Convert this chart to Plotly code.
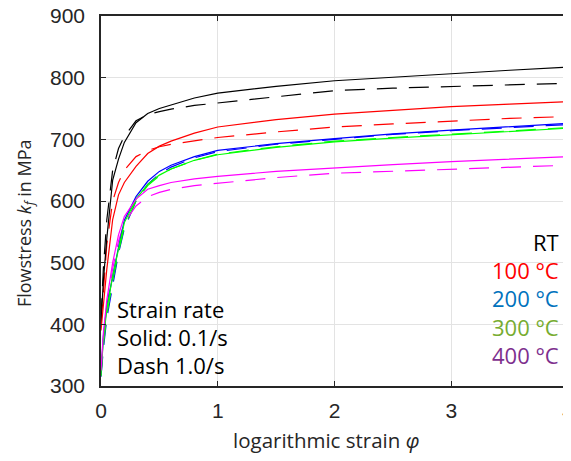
import plotly.graph_objects as go

strain = [0, 0.02, 0.05, 0.1, 0.15, 0.2, 0.3, 0.4, 0.5, 0.6, 0.8, 1.0, 1.5, 2.0, 2.5, 3.0, 3.5, 4.0]

rt_solid   = [400, 470, 540, 634, 668, 695, 727, 742, 750, 756, 767, 775, 786, 795, 801, 807, 812, 817]
rt_dash    = [410, 490, 570, 650, 685, 705, 730, 740, 745, 749, 755, 759, 770, 779, 783, 786, 789, 791]
t100_solid = [390, 430, 490, 570, 610, 630, 656, 677, 689, 697, 710, 720, 732, 741, 747, 753, 757, 761]
t100_dash  = [400, 450, 530, 600, 630, 650, 672, 682, 688, 692, 698, 703, 712, 720, 725, 730, 734, 737]
t200_solid = [320, 380, 430, 480, 525, 569, 607, 632, 648, 658, 672, 682, 693, 701, 709, 715, 721, 726]
t200_dash  = [315, 360, 410, 465, 515, 555, 600, 627, 644, 655, 670, 680, 692, 700, 708, 714, 719, 724]
t300_solid = [318, 375, 425, 478, 522, 565, 603, 627, 642, 652, 666, 675, 687, 696, 702, 707, 713, 718]
t300_dash  = [316, 365, 415, 470, 517, 558, 600, 625, 641, 652, 666, 676, 688, 697, 703, 708, 714, 719]
t400_solid = [325, 385, 440, 500, 545, 575, 603, 619, 625, 630, 636, 640, 648, 654, 659, 664, 668, 672]
t400_dash  = [320, 375, 430, 490, 535, 565, 592, 607, 614, 619, 625, 629, 638, 645, 648, 651, 655, 658]

labels = ["RT", "100 °C", "200 °C", "300 °C", "400 °C"]
label_colors = ["#000000", "#FF0000", "#0072BD", "#77AC30", "#7E2F8E"]
line_colors = ["#000000", "#FF0000", "#0000FF", "#00FF00", "#FF00FF"]

solids = [rt_solid, t100_solid, t200_solid, t300_solid, t400_solid]
dashes = [rt_dash, t100_dash, t200_dash, t300_dash, t400_dash]

fig = go.Figure()
for ys, col in zip(dashes, line_colors):
    fig.add_trace(go.Scatter(x=strain, y=ys, mode="lines",
                             line=dict(color=col, width=1.2, dash="20px,12px"),
                             showlegend=False, hoverinfo="skip"))
for ys, col in zip(solids, line_colors):
    fig.add_trace(go.Scatter(x=strain, y=ys, mode="lines",
                             line=dict(color=col, width=1.2),
                             showlegend=False, hoverinfo="skip"))

txt_font = "Open Sans, Noto Sans, sans-serif"
tick_font = dict(family="Liberation Sans, Arial, sans-serif", size=21, color="#262626")

legend_y = [0.389, 0.314, 0.238, 0.159, 0.084]
for lab, col, yy in zip(labels, label_colors, legend_y):
    fig.add_annotation(x=0.985, y=yy, xref="paper", yref="paper", text=lab,
                       showarrow=False, xanchor="right", yanchor="middle",
                       font=dict(family=txt_font, size=22, color=col))

rate_lines = ["Strain rate", "Solid: 0.1/s", "Dash 1.0/s"]
rate_y = [0.208, 0.132, 0.057]
for t, yy in zip(rate_lines, rate_y):
    fig.add_annotation(x=0.030, y=yy, xref="paper", yref="paper", text=t,
                       showarrow=False, xanchor="left", yanchor="middle",
                       font=dict(family=txt_font, size=22, color="#000000"))

# axis titles
fig.add_annotation(x=0.482, y=-0.146, xref="paper", yref="paper",
                   text="logarithmic strain <i>φ</i>", showarrow=False,
                   xanchor="center", yanchor="middle",
                   font=dict(family=txt_font, size=20.5, color="#262626"))
fig.add_annotation(x=-0.163, y=0.44, xref="paper", yref="paper",
                   text="Flowstress <i>k</i><sub><i>f</i></sub> in MPa", showarrow=False,
                   textangle=-90, xanchor="center", yanchor="middle",
                   font=dict(family=txt_font, size=18, color="#262626"))

axis_common = dict(showline=True, linecolor="#262626", linewidth=1.5, mirror="ticks",
                   ticks="inside", ticklen=5, tickwidth=1.2, tickcolor="#262626",
                   showgrid=True, gridcolor="#E3E3E3", gridwidth=1, zeroline=False,
                   tickfont=tick_font, automargin=False, ticklabeloverflow="allow")

fig.update_xaxes(range=[0, 4], dtick=1, tick0=0, ticklabelstandoff=5, **axis_common)
fig.update_yaxes(range=[300, 900], dtick=100, tick0=300, ticklabelstandoff=10, **axis_common)

# page body has an 8px default margin, so the figure is sized/offset to compensate
fig.update_layout(width=563, height=453, margin=dict(l=93, r=3, t=8, b=75),
                  plot_bgcolor="white", paper_bgcolor="white")

fig.write_html("out.html")
